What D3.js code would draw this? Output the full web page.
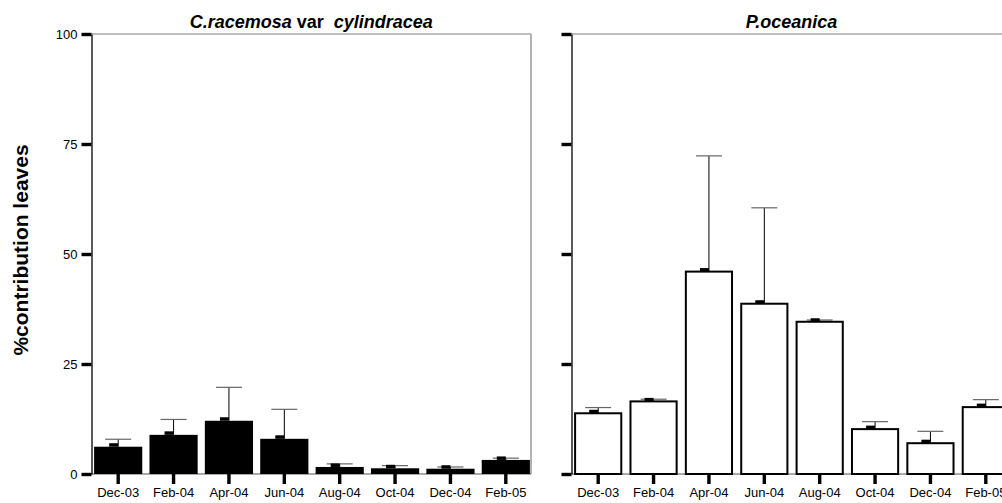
<!DOCTYPE html>
<html><head><meta charset="utf-8">
<script src="https://cdn.jsdelivr.net/npm/d3@7/dist/d3.min.js"></script>
<style>body{margin:0;background:#fff;} svg{display:block;}</style>
</head><body>
<svg id="c" width="1002" height="503"></svg>
<script>
const categories = ["Dec-03","Feb-04","Apr-04","Jun-04","Aug-04","Oct-04","Dec-04","Feb-05"];
const caulerpaMean = [6.2, 8.9, 12.1, 8.0, 1.6, 1.3, 1.2, 3.2];
const caulerpaErr  = [7.9, 12.4, 19.7, 14.7, 2.3, 1.9, 1.6, 3.6];
const posidoniaMean = [13.8, 16.5, 46.0, 38.7, 34.6, 10.2, 7.0, 15.2];
const posidoniaErr  = [15.1, 17.0, 72.3, 60.5, 35.0, 11.9, 9.7, 16.9];
const yTicks = [0, 25, 50, 75, 100];

const svg = d3.select("#c");
const font = "Arial, 'Liberation Sans', sans-serif";
const y = d3.scaleLinear().domain([0, 100]).range([474, 34]);

function panel(axisX, rightX, means, errs, fill, showLabels, titleParts) {
  const x = d3.scaleBand().domain(categories).range([axisX - 1, axisX - 1 + 443]).paddingInner(0.13).paddingOuter(0.065);
  const g = svg.append("g");
  g.append("line").attr("x1", axisX).attr("x2", rightX).attr("y1", y(100)).attr("y2", y(100)).attr("stroke", "#808080").attr("stroke-width", 1.2);
  if (rightX < 1002) g.append("line").attr("x1", rightX).attr("x2", rightX).attr("y1", y(100)).attr("y2", y(0)).attr("stroke", "#808080").attr("stroke-width", 1.2);
  g.append("line").attr("x1", axisX).attr("x2", rightX).attr("y1", y(0)).attr("y2", y(0)).attr("stroke", "#555").attr("stroke-width", 1);

  const filled = fill === "black";
  const bw = filled ? x.bandwidth() : x.bandwidth() - 2;
  categories.forEach((c, i) => {
    const cx = x(c) + x.bandwidth() / 2;
    g.append("line").attr("x1", cx).attr("x2", cx).attr("y1", y(means[i])).attr("y2", y(errs[i])).attr("stroke", "#000").attr("stroke-width", 1);
    g.append("line").attr("x1", cx - 13).attr("x2", cx + 13).attr("y1", y(errs[i])).attr("y2", y(errs[i])).attr("stroke", "#666").attr("stroke-width", 1.2);
  });
  g.selectAll("rect.bar").data(categories).join("rect").attr("class", "bar")
    .attr("x", c => x(c) + (x.bandwidth() - bw) / 2)
    .attr("width", bw)
    .attr("y", (c, i) => y(means[i]))
    .attr("height", (c, i) => y(0) - y(means[i]))
    .attr("fill", filled ? "#000" : "#fff")
    .attr("stroke", "#000").attr("stroke-width", filled ? 0 : 2);
  g.selectAll("rect.mk").data(categories).join("rect").attr("class", "mk")
    .attr("x", c => x(c) + x.bandwidth() / 2 - 9)
    .attr("width", 9)
    .attr("y", (c, i) => y(means[i]) - 3.5)
    .attr("height", 3.5)
    .attr("fill", "#000");

  const ya = d3.axisLeft(y).tickValues(yTicks).tickSize(0).tickPadding(14).tickFormat(showLabels ? d3.format("d") : () => "");
  const yg = g.append("g").attr("transform", `translate(${axisX},0)`).call(ya);
  yg.select(".domain").attr("stroke", "#000").attr("stroke-width", 1.3);
  yg.selectAll(".tick text").attr("font-family", font).attr("font-size", 13).attr("fill", "#000");
  yg.selectAll(".tick").append("rect").attr("x", -10).attr("y", -1.7).attr("width", 10).attr("height", 3.4).attr("fill", "#000");

  const xa = d3.axisBottom(x).tickSize(0).tickPadding(14);
  const xg = g.append("g").attr("transform", `translate(0,${y(0)})`).call(xa);
  xg.select(".domain").remove();
  xg.selectAll(".tick text").attr("font-family", font).attr("font-size", 13).attr("fill", "#000");
  xg.selectAll(".tick").append("rect").attr("x", -1.7).attr("y", 0).attr("width", 3.4).attr("height", 10).attr("fill", "#000");

  const t = g.append("text").attr("x", (axisX + Math.min(rightX, axisX + 440)) / 2).attr("y", 28)
    .attr("text-anchor", "middle").attr("font-family", font).attr("font-size", 18).attr("font-weight", "bold")
    .attr("xml:space", "preserve").style("white-space", "pre");
  titleParts.forEach(p => t.append("tspan").text(p.t).attr("font-style", p.i ? "italic" : "normal"));
}

panel(91.5, 531, caulerpaMean, caulerpaErr, "black", true,
  [{t: "C.racemosa", i: true}, {t: " var  ", i: false}, {t: "cylindracea", i: true}]);
panel(571.5, 1012, posidoniaMean, posidoniaErr, "white", false,
  [{t: "P.oceanica", i: true}]);

svg.append("text").attr("transform", `translate(28,250) rotate(-90)`)
  .attr("text-anchor", "middle").attr("font-family", font).attr("font-size", 21).attr("font-weight", "bold")
  .text("%contribution leaves");
</script>
</body></html>
